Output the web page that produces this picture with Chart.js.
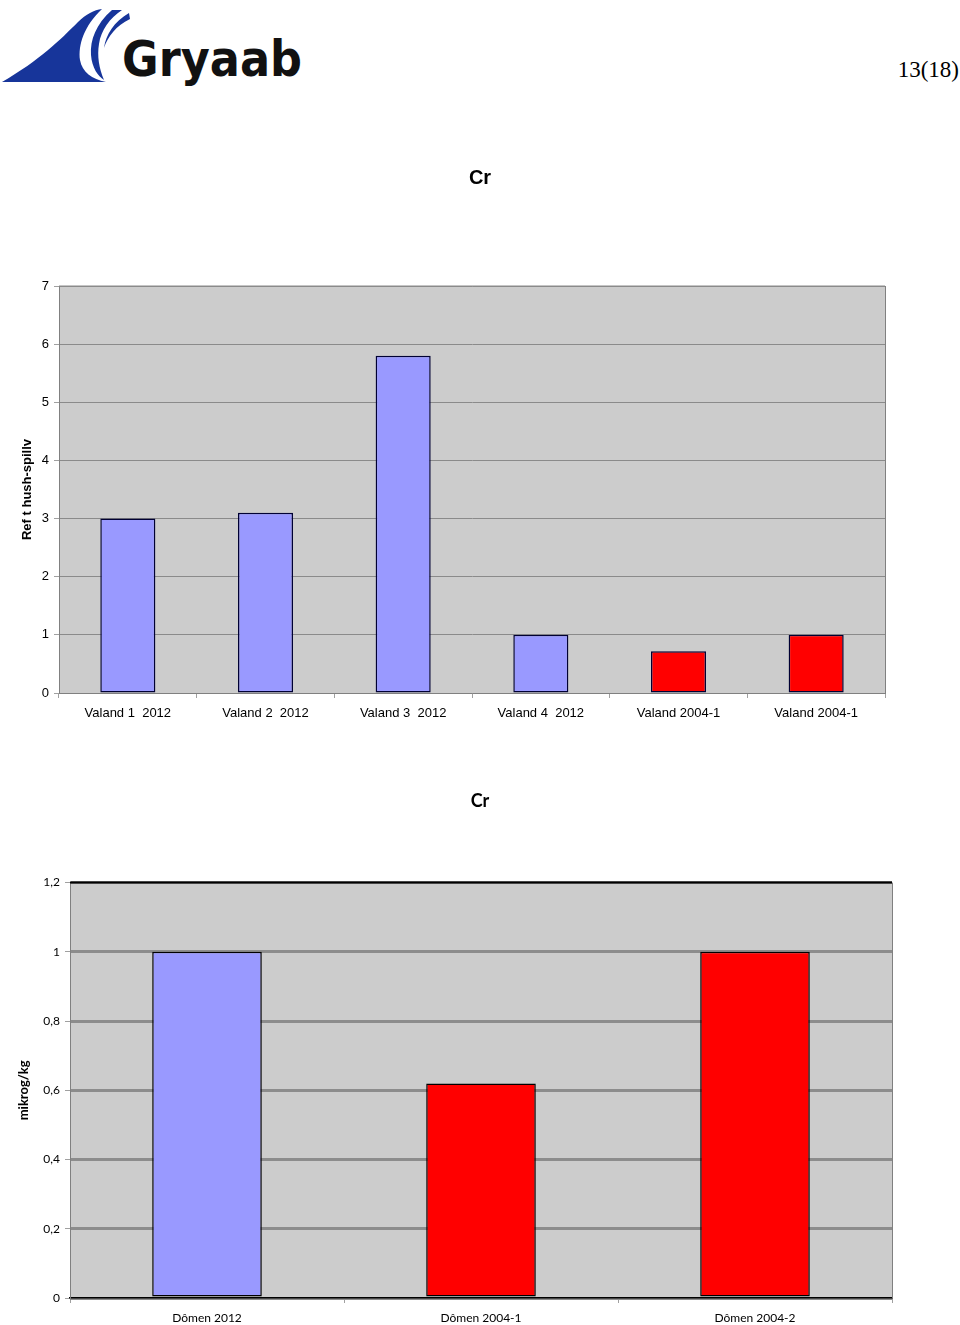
<!DOCTYPE html>
<html>
<head>
<meta charset="utf-8">
<script src="https://cdn.jsdelivr.net/npm/chart.js@4.4.1/dist/chart.umd.min.js"></script>
<style>
  html, body { margin: 0; padding: 0; background: #fff; }
  body { width: 960px; height: 1325px; position: relative; overflow: hidden; }
  #logo { position: absolute; left: 0; top: 0; }
  #pageNo { position: absolute; right: 1px; top: 57px; font-family: "Liberation Serif", serif; font-size: 23px; color: #000; }
  .box { position: absolute; left: 0; width: 960px; }
  #box1 { top: 150px; height: 580px; }
  #box2 { top: 760px; height: 565px; }
</style>
</head>
<body>
<svg id="logo" width="320" height="100" viewBox="0 0 320 100">
  <path d="M2,82 C40,60 60,40 78,22 C86,14 94,10 102,9 C84,26 78,45 80,60 C82,72 92,79 106,82 Z" fill="#17359a"/>
  <path d="M112,10 C96,24 90,40 91,55 C92,68 98,76 104,80 C99,68 97,56 99,44 C101,30 110,18 122,10 Z" fill="#17359a"/>
  <path d="M129,13 C114,22 106,34 104,48 C108,36 116,26 130,19 Z" fill="#17359a"/>
  <text x="122" y="76" font-family="DejaVu Sans" font-weight="bold" font-size="50" textLength="180" lengthAdjust="spacingAndGlyphs" fill="#111">Gryaab</text>
</svg>
<div id="pageNo">13(18)</div>
<div class="box" id="box1"><canvas id="c1"></canvas></div>
<div class="box" id="box2"><canvas id="c2"></canvas></div>
<script>
// Chart 1 – Cr, Ref t hush-spillv
const labels1 = ['Valand 1  2012', 'Valand 2  2012', 'Valand 3  2012', 'Valand 4  2012', 'Valand 2004-1', 'Valand 2004-1'];
const values1 = [3.0, 3.1, 5.8, 1.0, 0.72, 1.0];
const yTicks1 = [0, 1, 2, 3, 4, 5, 6, 7];

// Chart 2 – Cr, mikrog/kg
const labels2 = ['Dômen 2012', 'Dômen 2004-1', 'Dômen 2004-2'];
const values2 = [1.0, 0.62, 1.0];
const yTicks2 = [0, 0.2, 0.4, 0.6, 0.8, 1, 1.2];

const BLUE = '#9999ff';
const RED = '#ff0000';
const barColor = l => (l.includes('2012') ? BLUE : RED);

// plot area background and frame
const plotFrame = {
  id: 'plotFrame',
  beforeDraw(chart, args, opts) {
    const { ctx, chartArea: a } = chart;
    ctx.save();
    ctx.fillStyle = opts.fill;
    ctx.fillRect(a.left, a.top, a.right - a.left, a.bottom - a.top);
    ctx.restore();
  },
  afterDatasetsDraw(chart, args, opts) {
    const { ctx, chartArea: a } = chart;
    ctx.save();
    ctx.strokeStyle = opts.top;
    ctx.lineWidth = opts.topWidth;
    ctx.beginPath();
    ctx.moveTo(a.left, a.top);
    ctx.lineTo(a.right, a.top);
    ctx.stroke();
    ctx.strokeStyle = opts.side;
    ctx.lineWidth = 1;
    ctx.beginPath();
    ctx.moveTo(a.right + 0.5, a.top);
    ctx.lineTo(a.right + 0.5, a.bottom);
    ctx.stroke();
    ctx.restore();
  }
};

Chart.register(plotFrame);

function makeChart(id, cfg) {
  return new Chart(document.getElementById(id), {
    type: 'bar',
    data: {
      labels: cfg.labels,
      datasets: [{
        data: cfg.values,
        backgroundColor: cfg.labels.map(barColor),
        borderColor: cfg.barBorder,
        borderWidth: 1.5,
        borderSkipped: false,
        categoryPercentage: 0.4,
        barPercentage: 1
      }]
    },
    options: {
      responsive: true,
      maintainAspectRatio: false,
      animation: false,
      layout: { padding: 0 },
      plugins: {
        legend: { display: false },
        tooltip: { enabled: false },
        title: {
          display: true,
          text: 'Cr',
          color: '#000',
          font: { family: cfg.font, size: cfg.titleSize, weight: 'bold' },
          padding: { top: cfg.titleTop, bottom: cfg.titleBottom }
        },
        plotFrame: { fill: '#cccccc', top: cfg.frameTop, topWidth: cfg.frameTopWidth, side: '#808080' }
      },
      scales: {
        x: {
          offset: true,
          afterFit: s => { s.height = cfg.xHeight; },
          border: { display: true, color: cfg.xAxisColor, width: cfg.xAxisWidth },
          grid: { display: true, drawOnChartArea: false, drawTicks: true, tickLength: 5, color: '#a0a0a0', offset: true },
          ticks: {
            autoSkip: false, maxRotation: 0, minRotation: 0, padding: cfg.xPad, color: '#000',
            font: { family: cfg.font, size: cfg.tickSize }
          }
        },
        y: {
          min: 0,
          max: cfg.yTicks[cfg.yTicks.length - 1],
          afterFit: s => { s.width = cfg.yWidth; },
          afterBuildTicks: s => { s.ticks = cfg.yTicks.map(v => ({ value: v })); },
          border: { display: true, color: '#808080', width: 1 },
          grid: { color: cfg.gridColor, lineWidth: cfg.gridWidth, tickLength: 5, tickColor: '#a0a0a0', tickWidth: 1 },
          ticks: {
            padding: 5, color: '#000',
            font: { family: cfg.font, size: cfg.tickSize },
            callback: v => String(v).replace('.', ',')
          },
          title: {
            display: true,
            text: cfg.yTitle,
            color: '#000',
            font: { family: cfg.font, size: 13, weight: 'bold' },
            padding: { top: cfg.yTitlePad, bottom: 0 }
          }
        },
        // empty right-hand margin so the title stays centred on the page
        pad: {
          type: 'linear',
          position: 'right',
          display: true,
          afterFit: s => { s.width = cfg.padRight; },
          grid: { display: false },
          border: { display: false },
          ticks: { display: false }
        }
      }
    }
  });
}

makeChart('c1', {
  labels: labels1, values: values1, yTicks: yTicks1,
  font: '"Liberation Sans", Arial, sans-serif',
  titleSize: 20, titleTop: 16, titleBottom: 96, tickSize: 13,
  padRight: 75, yWidth: 59, xHeight: 37, xPad: 8,
  barBorder: '#000033', gridColor: '#8a8a8a', gridWidth: 1,
  xAxisColor: '#808080', xAxisWidth: 1,
  frameTop: '#8a8a8a', frameTopWidth: 1,
  yTitle: 'Ref t hush-spillv', yTitlePad: 20
});

makeChart('c2', {
  labels: labels2, values: values2, yTicks: yTicks2,
  font: 'Lato, "Open Sans", sans-serif',
  titleSize: 18, titleTop: 30, titleBottom: 71, tickSize: 12,
  padRight: 68, yWidth: 70, xHeight: 27, xPad: 8,
  barBorder: '#000000', gridColor: '#8c8c8c', gridWidth: 3,
  xAxisColor: '#000000', xAxisWidth: 1.5,
  frameTop: '#000000', frameTopWidth: 2,
  yTitle: 'mikrog/kg', yTitlePad: 16
});
</script>
</body>
</html>
